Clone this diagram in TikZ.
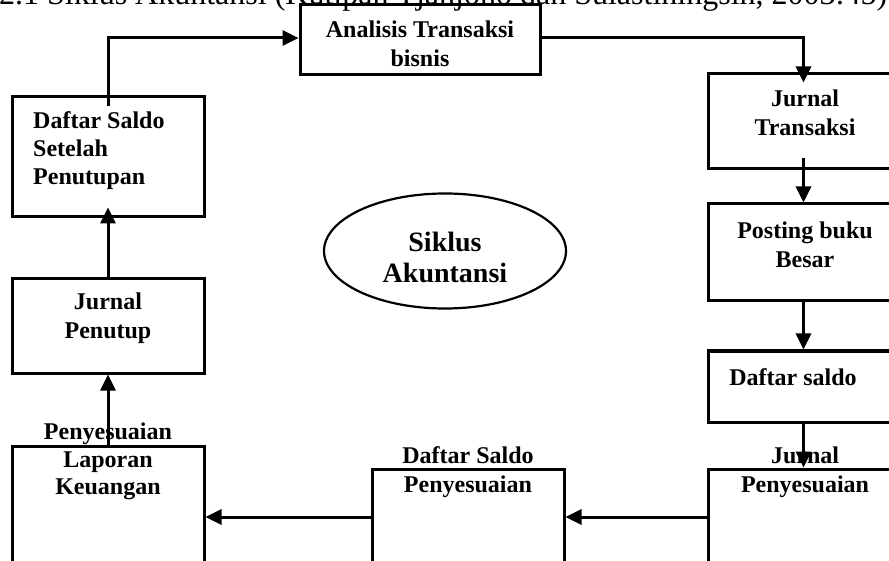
\documentclass[tikz,border=0pt]{standalone}
\usepackage{fontspec}
\setmainfont{Liberation Serif}
\usetikzlibrary{arrows.meta,shapes.geometric}
\begin{document}
\begin{tikzpicture}[x=1pt,y=-1pt,
  box/.style={draw,line width=3pt,rectangle,inner sep=0pt},
  lbl/.style={font=\bfseries\fontsize{24}{29}\selectfont,align=center,inner sep=0pt},
  arr/.style={line width=3pt,-{Triangle[length=16pt,width=15pt]}}]
\useasboundingbox (0,0) rectangle (889,561);
\clip (0,0) rectangle (889,561);
\node[anchor=base west,font=\fontsize{32}{38}\selectfont,inner sep=0pt] (title) at (-1,5) {2.1 Siklus Akuntansi (Kutipan Tjahjono dan Sulastiningsih, 2003:45)};
% boxes
\node[box,minimum width=240pt,minimum height=70pt] (at) at (420,40) {};
\node[box,minimum width=191pt,minimum height=95pt] (jt) at (803.5,121.5) {};
\node[box,minimum width=191pt,minimum height=97pt] (pb) at (803.5,252.5) {};
\node[box,minimum width=191pt,minimum height=71pt] (ds) at (803.5,386.5) {};
\node[box,minimum width=191pt,minimum height=131pt] (jp) at (803.5,534.5) {};
\node[box,minimum width=192pt,minimum height=131pt] (dsp) at (468,534.5) {};
\node[box,minimum width=192pt,minimum height=154pt] (lk) at (108,523) {};
\node[box,minimum width=192pt,minimum height=94pt] (jpt) at (108,326) {};
\node[box,minimum width=192pt,minimum height=120pt] (dssp) at (108,157) {};
\node[draw,ellipse,line width=2.2pt,minimum width=242pt,minimum height=115pt] (sa) at (445,251) {};
% texts
\node[lbl] (att) at (420,43.5) {Analisis Transaksi\\bisnis};
\node[lbl] (jtt) at (805,112.5) {Jurnal\\Transaksi};
\node[lbl] (pbt) at (805,244.5) {Posting buku\\Besar};
\node[lbl] (dst) at (793,377) {Daftar saldo};
\node[lbl] (jpt2) at (805,472.5) {Jurnal\\Penyesuaian};
\node[lbl] (dspt) at (468,472.5) {Daftar Saldo\\Penyesuaian};
\node[lbl,font=\bfseries\fontsize{24}{27.5}\selectfont] (lkt) at (108,461.5) {Penyesuaian\\Laporan\\Keuangan};
\node[lbl] (jptt) at (108,318) {Jurnal\\Penutup};
\node[lbl,align=left,anchor=west,font=\bfseries\fontsize{24}{28}\selectfont] (dsspt) at (33,151) {Daftar Saldo\\Setelah\\Penutupan};
\node[lbl,font=\bfseries\fontsize{28}{31}\selectfont] (sat) at (445,257.5) {Siklus\\Akuntansi};
% connectors
\coordinate (h) at (0,517);
\draw[arr] ([yshift=-11pt]dssp.north) |- ([yshift=2pt]at.west);
\draw[arr] ([yshift=2pt]at.east) -| ([yshift=-10pt]jt.north);
\draw[arr] ([yshift=12pt]jt.south) -- (pb.north);
\draw[arr] (pb.south) -- (ds.north);
\draw[arr] ([yshift=2pt]ds.south) -- (jp.north);
\draw[arr] (jp.west |- h) -- (dsp.east |- h);
\draw[arr] (dsp.west |- h) -- (lk.east |- h);
\draw[arr] (lk.north) -- (jpt.south);
\draw[arr] (jpt.north) -- ([yshift=11pt]dssp.south);
\end{tikzpicture}
\end{document}
